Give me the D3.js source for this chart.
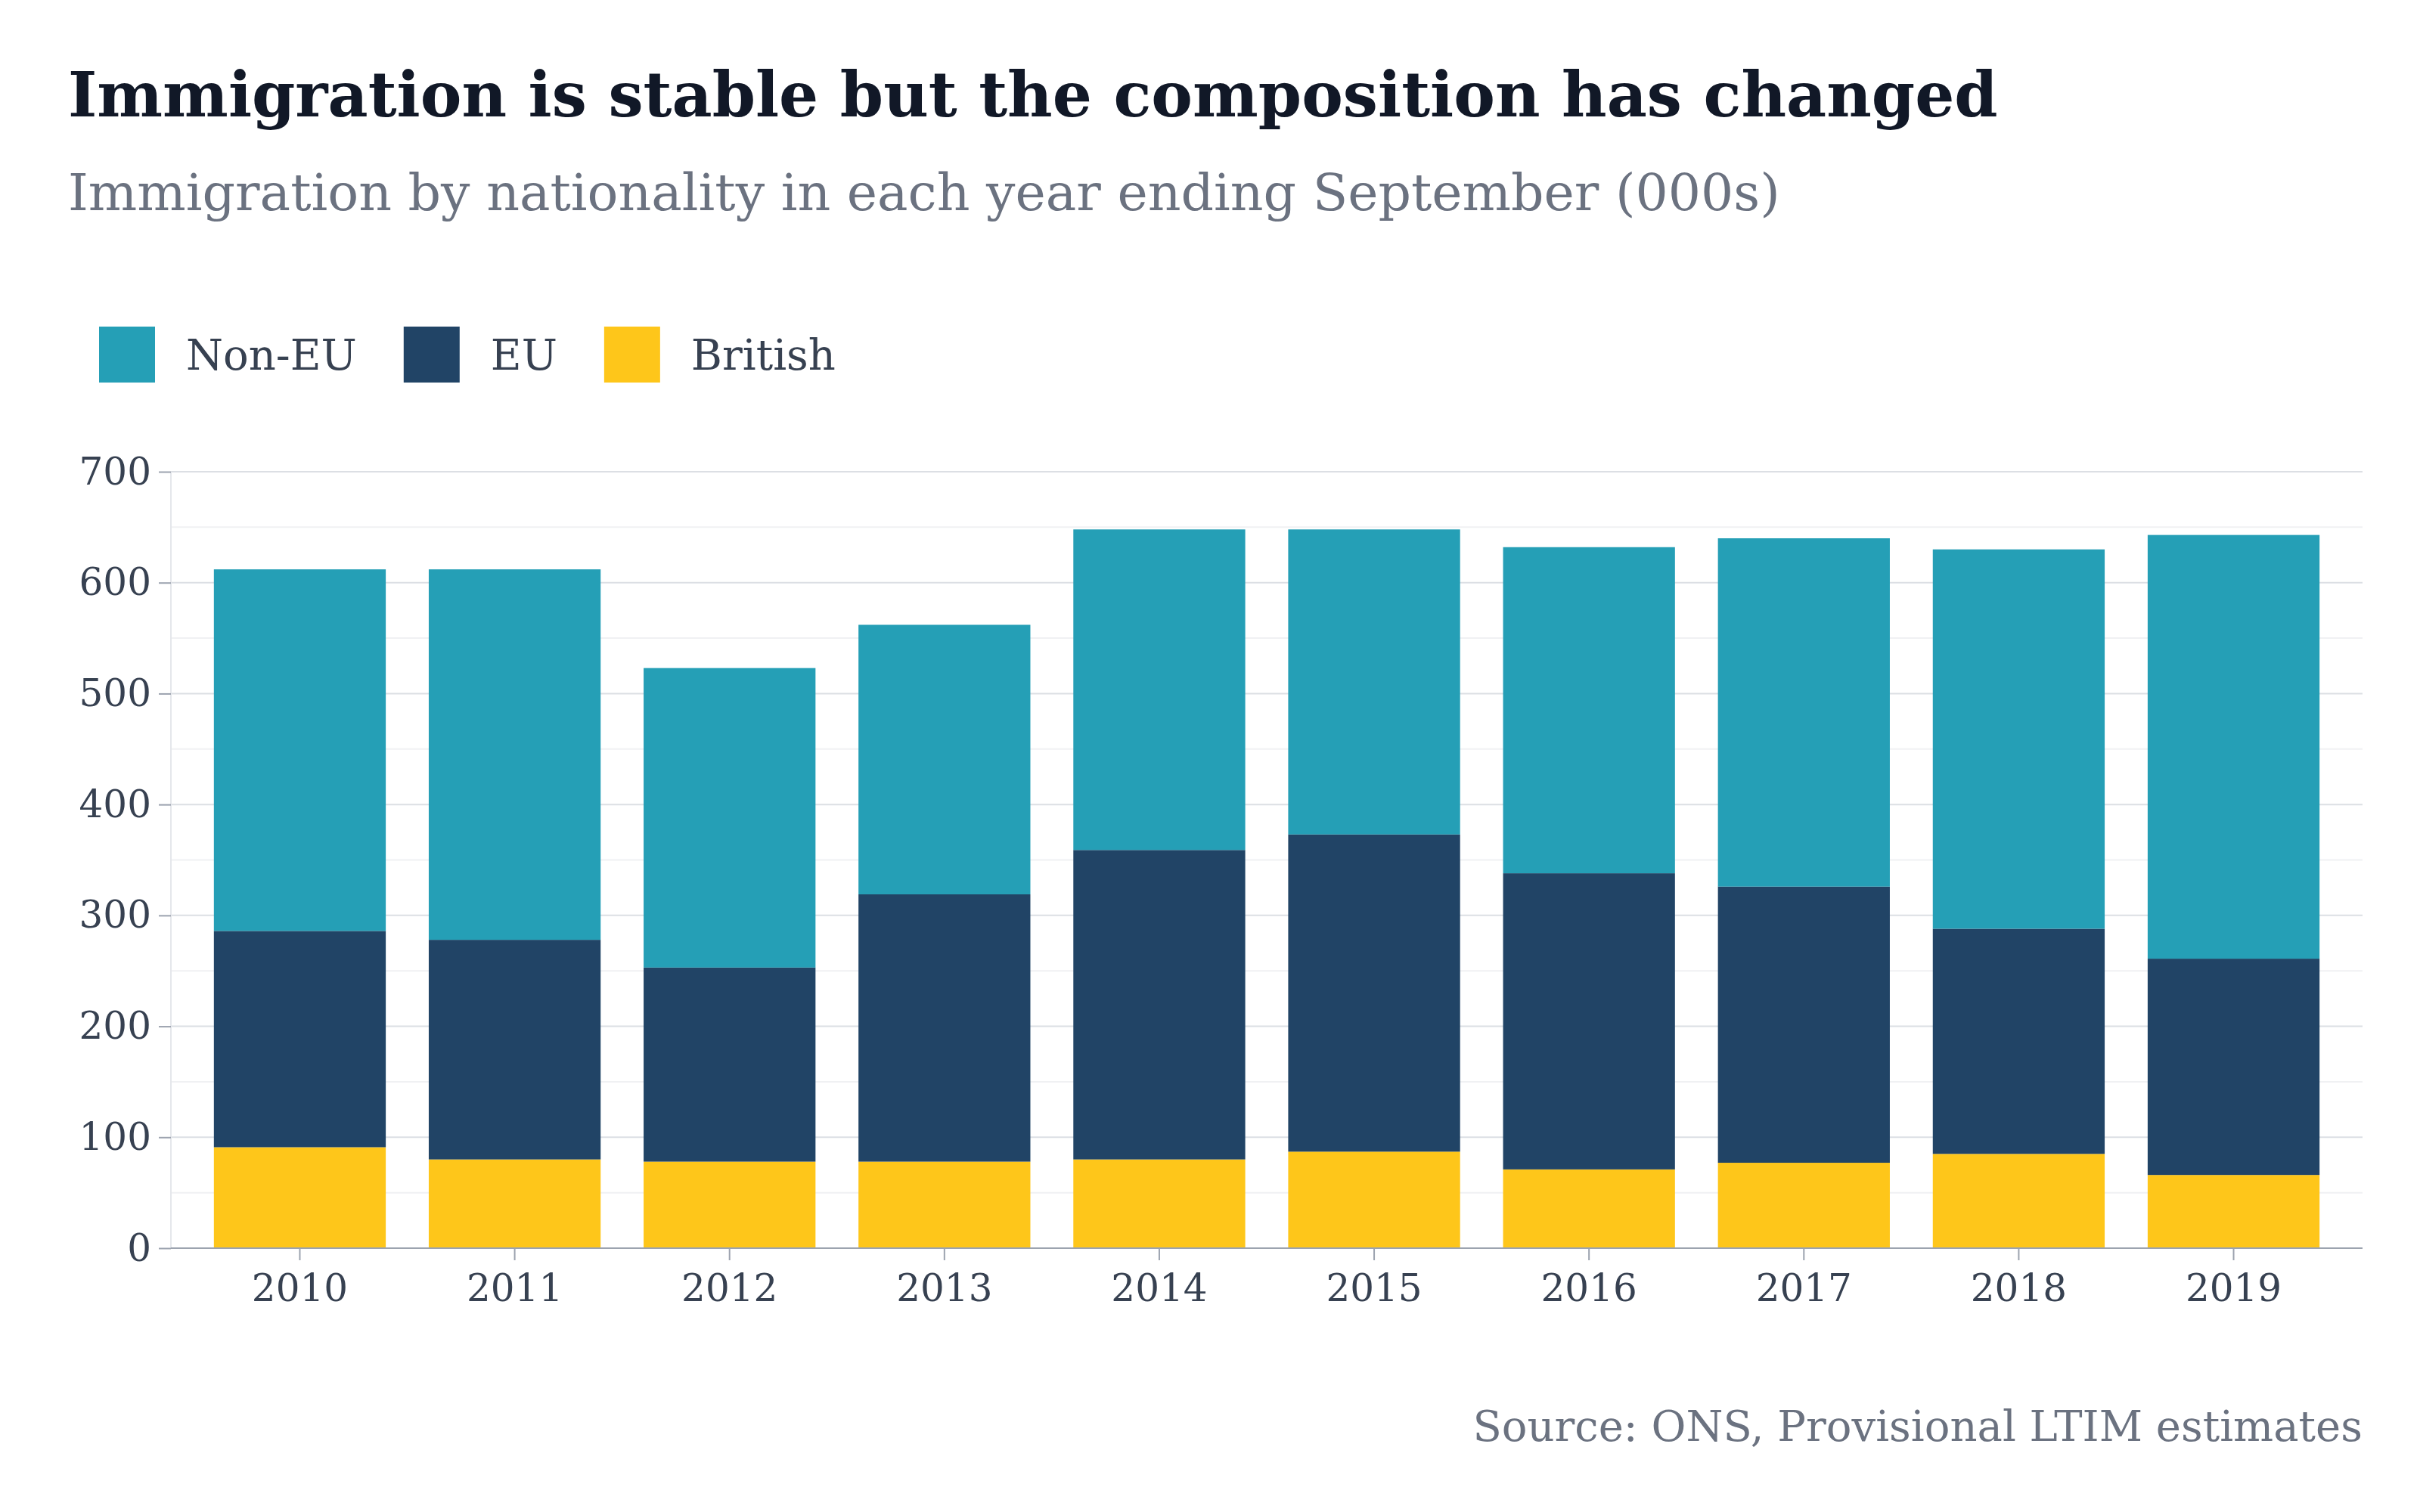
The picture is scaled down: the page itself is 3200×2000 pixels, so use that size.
<!DOCTYPE html>
<html><head><meta charset="utf-8">
<script src="https://cdn.jsdelivr.net/npm/d3@7/dist/d3.min.js"></script>
<style>body{margin:0;background:#fff}svg{display:block}</style>
</head><body><svg id="c" width="3200" height="2000"></svg>
<script>
const years = ["2010","2011","2012","2013","2014","2015","2016","2017","2018","2019"];
const british = [91,80,78,78,80,87,71,77,85,66];
const eu = [195,198,175,241,279,286,267,249,203,195];
const nonEu = [326,334,270,243,289,275,294,314,342,382];
const yTicks = [0,100,200,300,400,500,600,700];
const seriesNames = ["Non-EU","EU","British"];
const colors = {"Non-EU":"#259fb6","EU":"#214466","British":"#fec61a"};

const font = "'DejaVu Serif', 'Liberation Serif', serif";
const svg = d3.select("#c");
const L=226, R=3124, T=624, B=1651;
const x = d3.scaleBand().domain(years).range([L,R]).paddingInner(0.2).paddingOuter(0.2);
const y = d3.scaleLinear().domain([0,700]).range([B,T]);

svg.append("text").attr("x",90).attr("y",154).attr("font-family",font).attr("font-weight","bold")
  .attr("font-size",82).attr("fill","#111827").text("Immigration is stable but the composition has changed");
svg.append("text").attr("x",90).attr("y",278).attr("font-family",font)
  .attr("font-size",68).attr("fill","#6b7280").text("Immigration by nationality in each year ending September (000s)");

// legend
const lg = svg.append("g");
let lx=131;
seriesNames.forEach(n=>{
  lg.append("rect").attr("x",lx).attr("y",432).attr("width",74).attr("height",74).attr("fill",colors[n]);
  const t=lg.append("text").attr("x",lx+115).attr("y",489).attr("font-family",font).attr("font-size",56).attr("fill","#374151").text(n);
  lx += 115 + t.node().getComputedTextLength() + 62;
});

// grid
d3.range(50,700,100).forEach(v=>svg.append("line").attr("x1",L).attr("x2",R).attr("y1",y(v)).attr("y2",y(v)).attr("stroke","#f0f1f3").attr("stroke-width",2));
yTicks.forEach(v=>{ if(v>0) svg.append("line").attr("x1",L).attr("x2",R).attr("y1",y(v)).attr("y2",y(v)).attr("stroke","#dcdfe4").attr("stroke-width",2);});
svg.append("line").attr("x1",L).attr("x2",L).attr("y1",T).attr("y2",B).attr("stroke","#e5e7eb").attr("stroke-width",2);

const data = years.map((yr,i)=>({year:yr,"British":british[i],"EU":eu[i],"Non-EU":nonEu[i]}));
const stack = d3.stack().keys(["British","EU","Non-EU"])(data);
svg.append("g").selectAll("g").data(stack).join("g").attr("fill",d=>colors[d.key])
  .selectAll("rect").data(d=>d).join("rect")
  .attr("x",d=>x(d.data.year)).attr("width",x.bandwidth())
  .attr("y",d=>y(d[1])).attr("height",d=>y(d[0])-y(d[1]));

svg.append("line").attr("x1",L).attr("x2",R).attr("y1",B).attr("y2",B).attr("stroke","#9ca3af").attr("stroke-width",2);

const yAx = svg.append("g").attr("transform",`translate(${L},0)`).call(d3.axisLeft(y).tickValues(yTicks).tickSize(16).tickPadding(10));
yAx.select(".domain").remove();
yAx.selectAll("line").attr("stroke","#9ca3af").attr("stroke-width",2);
yAx.selectAll("text").attr("font-family",font).attr("font-size",50).attr("fill","#374151");

const xAx = svg.append("g").attr("transform",`translate(0,${B})`).call(d3.axisBottom(x).tickSize(16).tickPadding(18));
xAx.select(".domain").remove();
xAx.selectAll("line").attr("stroke","#9ca3af").attr("stroke-width",2);
xAx.selectAll("text").attr("font-family",font).attr("font-size",50).attr("fill","#374151");

svg.append("text").attr("x",R).attr("y",1906).attr("text-anchor","end").attr("font-family",font)
  .attr("font-size",56).attr("fill","#6b7280").text("Source: ONS, Provisional LTIM estimates");
</script></body></html>
